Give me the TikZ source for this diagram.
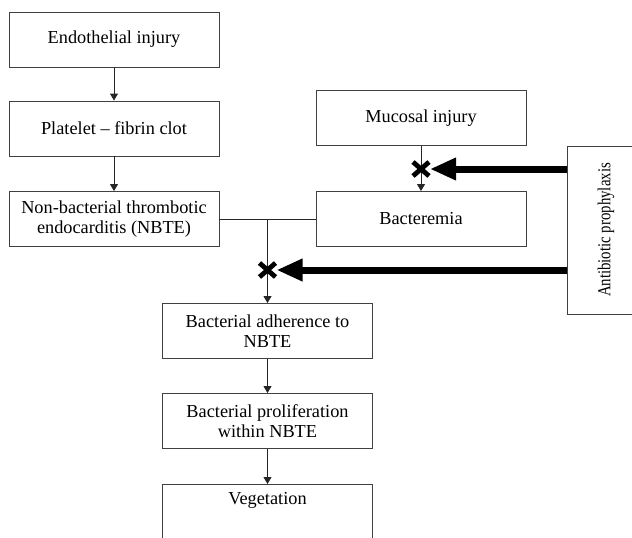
\documentclass[tikz,border=0pt]{standalone}
\usepackage{fontspec}
\setmainfont{Liberation Serif}
\usepackage{graphicx}
\usetikzlibrary{arrows.meta}
\begin{document}
\begin{tikzpicture}[x=1pt,y=-1pt,
  box/.style={draw=black!75, line width=0.9pt, minimum width=210pt, minimum height=55pt,
    align=center, inner sep=0pt, font=\fontsize{18.3}{19.5}\selectfont},
  conn/.style={draw=black!85, line width=0.9pt},
  arr/.style={conn, -{Triangle[width=8pt,length=7pt]}},
  block/.style={line width=7pt, -{Triangle[width=21pt,length=26pt]}},
  xmark/.style={line width=4.8pt}
]
\useasboundingbox (0,0) rectangle (632,538);
\clip (0,0) rectangle (632,538);
\node[box] (endo) at (114,39.5) {Endothelial injury};
\node[box] (plat) at (114,128.5) {Platelet -- fibrin clot};
\node[box] (nbte) at (114,219) {Non-bacterial thrombotic\\endocarditis (NBTE)};
\node[box] (muc) at (421,118) {Mucosal injury};
\node[box] (bact) at (421,219) {Bacteremia};
\node[box] (adh) at (267.5,331) {Bacterial adherence to\\NBTE};
\node[box] (prol) at (267.5,421) {Bacterial proliferation\\within NBTE};
\node[box, anchor=north, minimum height=0pt, inner ysep=7pt, text height=13pt, text depth=50pt] (veg) at (267.5,484) {Vegetation};
\node[draw=black!75, line width=0.9pt, rotate=90, minimum width=168pt, minimum height=78pt,
  inner sep=0pt, font=\fontsize{18.3}{19.5}\selectfont] (anti) at (606,230) {\scalebox{0.81}[1]{Antibiotic prophylaxis}};
\draw[arr] (endo) -- (plat);
\draw[arr] (plat) -- (nbte);
\draw[arr] (adh) -- (prol);
\draw[arr] (prol) -- (veg);
\draw[conn] (nbte.east) -- (bact.west);
\coordinate (j) at (adh.north |- nbte.east);
\draw[arr] (j) -- (adh.north);
\draw[arr] (muc) -- (bact);
\coordinate (x1) at (421,169);
\coordinate (x2) at (267.5,270);
\draw[xmark] ([shift={(-8,-7)}]x1) -- ([shift={(8,7)}]x1) ([shift={(-8,7)}]x1) -- ([shift={(8,-7)}]x1);
\draw[xmark] ([shift={(-8,-7)}]x2) -- ([shift={(8,7)}]x2) ([shift={(-8,7)}]x2) -- ([shift={(8,-7)}]x2);
\draw[block] (anti.north |- x1) -- ([xshift=9pt]x1);
\draw[block] (anti.north |- x2) -- ([xshift=9pt]x2);
\end{tikzpicture}
\end{document}
